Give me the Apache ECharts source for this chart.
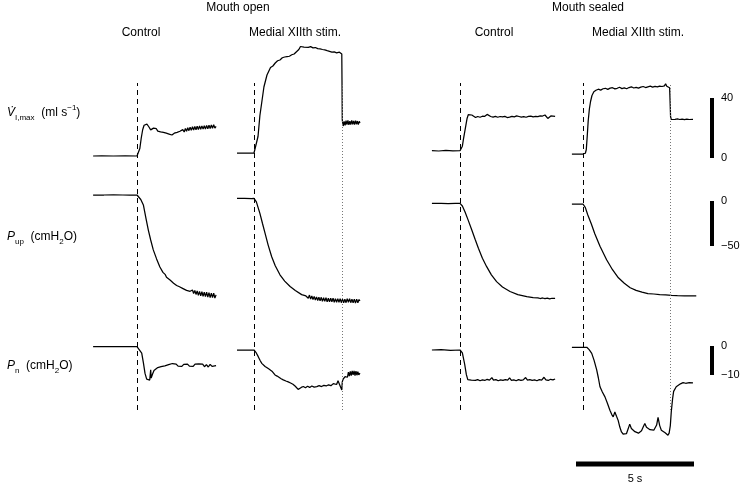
<!DOCTYPE html>
<html><head><meta charset="utf-8">
<script src="https://cdn.jsdelivr.net/npm/echarts@6/dist/echarts.min.js"></script>
<style>html,body{margin:0;padding:0;background:#fff}#c{width:750px;height:486px}</style>
</head><body><div id="c"></div>
<script>
// ---------------- DATA ([time s from stim onset, value]) ----------------
const groupTitles = ['Mouth open', 'Mouth sealed'];
const panelTitles = ['Control', 'Medial XIIth stim.', 'Control', 'Medial XIIth stim.'];
const stimEnd = [null, 3.73, null, 3.69];           // s
const scaleBarValues = [40, -50, -10];              // V ml s-1, Pup cmH2O, Pn cmH2O
const timeBarSeconds = 5;

// Row 1: inspiratory flow (ml s-1)
const openCtrlV = [[-1.86,0],[-1.5,0.1],[-1.0,0],[-0.5,0.1],[0,0],[0.06,0.6],[0.12,5],[0.18,12],[0.24,17.5],[0.3,20.5],[0.36,21.8],[0.42,21.2],[0.5,19.5],[0.58,17.4],[0.64,16.8],[0.7,18.6],[0.76,19.5],[0.82,18.2],[0.88,16.6],[0.94,17.4],[1.0,16.1],[1.06,17.3],[1.12,15.8],[1.18,16.8],[1.24,15.2],[1.3,16.1],[1.36,14.6],[1.42,15.4],[1.48,14],[1.53,14],[1.58,15.2],[1.64,14.3],[1.7,15.8],[1.76,14.9],[1.82,16.5],[1.88,15.5],[1.94,17.6],[2.0,16],[2.05,18.4],[2.1,16.5],[2.15,18.8],[2.2,16.9],[2.25,19.2],[2.3,17.1],[2.35,19.5],[2.4,17.3],[2.45,19.7],[2.5,17.5],[2.55,19.8],[2.6,17.6],[2.65,20],[2.7,17.8],[2.75,20.1],[2.8,17.9],[2.85,20.2],[2.9,18],[2.95,20.4],[3.0,18.2],[3.05,20.5],[3.1,18.3],[3.15,20.7],[3.2,18.5],[3.25,20.8],[3.3,18.6],[3.35,19.8]];
const openStimV = [[-0.72,0],[-0.4,0],[0,0],[0.08,1],[0.17,11],[0.25,25],[0.34,35],[0.42,44],[0.55,52],[0.7,57],[0.8,58],[0.9,60],[1.0,61.5],[1.1,62],[1.2,63.5],[1.3,64],[1.4,64.3],[1.5,64.5],[1.6,65.5],[1.7,66],[1.8,67.5],[1.9,69],[1.97,71],[2.05,71.8],[2.12,70.6],[2.2,71.2],[2.3,70.4],[2.4,70.9],[2.5,70.1],[2.6,70.3],[2.7,69.6],[2.8,69.4],[2.9,69],[3.0,68.7],[3.1,68.2],[3.2,67.8],[3.3,67.3],[3.4,67.4],[3.5,66.8],[3.58,65.5],[3.62,67.2],[3.68,66.4],[3.72,66],[3.73,45],[3.74,22],[3.78,18],[3.82,21],[3.86,18.5],[3.9,21.5],[3.94,18.9],[3.98,21.7],[4.02,18.8],[4.06,21.3],[4.1,19],[4.14,21.8],[4.18,19.1],[4.22,21.4],[4.26,18.9],[4.3,21.6],[4.34,19.2],[4.38,21.3],[4.42,19],[4.46,21.1],[4.49,20]];
const sealCtrlV = [[-1.19,0],[-0.9,-0.2],[-0.6,0.2],[-0.3,-0.1],[0,0],[0.05,0.5],[0.1,3],[0.15,8],[0.2,12.5],[0.25,17],[0.3,21.5],[0.35,24],[0.42,24.9],[0.5,23.8],[0.58,22.6],[0.66,22.1],[0.75,22.8],[0.85,22.3],[0.95,23],[1.05,22.9],[1.15,24.2],[1.22,23.9],[1.3,22.8],[1.4,22.4],[1.5,22.9],[1.6,22.3],[1.7,22.8],[1.8,22.5],[1.9,22.9],[2.0,22.1],[2.1,22.4],[2.2,22.9],[2.3,22.6],[2.4,23.2],[2.5,22.8],[2.6,22.4],[2.7,22.7],[2.8,22.3],[2.9,22.9],[3.0,23.1],[3.1,22.6],[3.2,22.9],[3.3,22.7],[3.4,23.2],[3.5,23.1],[3.6,23.8],[3.66,23.2],[3.72,21.5],[3.78,22.2],[3.85,23.2],[3.92,22.6],[4.03,22.9]];
const sealStimV = [[-0.47,0],[-0.2,0],[0,0],[0.1,0.5],[0.14,3],[0.18,12],[0.22,22],[0.27,30],[0.32,35],[0.38,39],[0.46,41.5],[0.55,42.5],[0.65,43.2],[0.75,42.6],[0.85,43.5],[0.95,43.8],[1.05,43.1],[1.15,43.9],[1.25,44.2],[1.35,43.4],[1.45,43.8],[1.55,44.5],[1.65,43.6],[1.75,44.1],[1.85,43.5],[1.95,44.3],[2.05,44.8],[2.15,44],[2.25,44.4],[2.35,43.9],[2.45,44.6],[2.55,45],[2.65,44.3],[2.75,44.8],[2.85,45.2],[2.95,44.6],[3.05,45.1],[3.15,44.7],[3.25,45.3],[3.35,45],[3.45,45.4],[3.5,46.8],[3.55,45.2],[3.62,44.9],[3.67,44.2],[3.69,35],[3.71,25],[3.74,23],[3.8,23.5],[3.9,23.1],[4.0,23.4],[4.1,23],[4.2,23.3],[4.3,22.9],[4.4,23.2],[4.5,23],[4.66,23.1]];

// Row 2: upper airway pressure (cmH2O)
const openCtrlPup = [[-1.86,0],[-1.4,0],[-1.0,0.2],[-0.6,0],[-0.3,-0.2],[0,0],[0.08,-2],[0.16,-5],[0.27,-11],[0.38,-26],[0.48,-39],[0.58,-50],[0.69,-61],[0.83,-71],[0.97,-80],[1.1,-86],[1.2,-88.5],[1.25,-91.5],[1.32,-91.5],[1.4,-94.5],[1.47,-94.5],[1.55,-98],[1.62,-97.5],[1.68,-100.5],[1.75,-99.5],[1.8,-102],[1.88,-101],[1.95,-104],[2.02,-102.5],[2.1,-106],[2.17,-104],[2.25,-107],[2.3,-108.5],[2.35,-105.5],[2.4,-109.5],[2.45,-106],[2.5,-110.5],[2.55,-106.5],[2.6,-111.5],[2.65,-107],[2.7,-112],[2.75,-107.5],[2.8,-112.5],[2.85,-108],[2.9,-113],[2.95,-108],[3.0,-113.5],[3.05,-108.5],[3.1,-114],[3.15,-109],[3.2,-114],[3.25,-109],[3.3,-114.5],[3.35,-111]];
const openStimPup = [[-0.72,0],[-0.4,0],[-0.1,-0.3],[0,0],[0.1,-4],[0.25,-16.7],[0.36,-28],[0.47,-39],[0.6,-52],[0.75,-65],[0.9,-75],[1.1,-85],[1.3,-92],[1.53,-98],[1.75,-102.5],[2.02,-107],[2.2,-108.5],[2.3,-111],[2.35,-107.5],[2.4,-112],[2.45,-108.5],[2.5,-112.5],[2.55,-109],[2.6,-113],[2.65,-109.5],[2.7,-113.5],[2.75,-110],[2.8,-114],[2.85,-110],[2.9,-114.5],[2.95,-110.5],[3.0,-114.5],[3.05,-110.5],[3.1,-115],[3.15,-111],[3.2,-115],[3.25,-111],[3.3,-115],[3.35,-111],[3.4,-115.5],[3.45,-111.5],[3.5,-115.5],[3.55,-111.5],[3.6,-115.5],[3.65,-111.5],[3.7,-116],[3.75,-112],[3.8,-116],[3.85,-112],[3.9,-116],[3.95,-111.5],[4.0,-115.5],[4.05,-111.5],[4.1,-116],[4.15,-112],[4.2,-116],[4.25,-112],[4.3,-116.5],[4.35,-112],[4.4,-116],[4.45,-112.5],[4.49,-114]];
const sealCtrlPup = [[-1.19,0],[-0.8,0],[-0.5,-0.3],[-0.2,0],[0,0],[0.1,-3],[0.21,-9.3],[0.35,-19],[0.5,-29.7],[0.64,-40],[0.78,-50],[0.95,-61],[1.13,-70.4],[1.33,-79.5],[1.55,-87],[1.8,-93],[2.12,-98],[2.45,-101.5],[2.83,-103.8],[3.1,-104.8],[3.3,-105],[3.4,-105.8],[3.5,-105.2],[3.6,-106],[3.7,-105.4],[3.8,-106.1],[3.9,-105.5],[3.94,-105.8],[4.03,-105.6]];
const sealStimPup = [[-0.47,0],[-0.2,0],[0,0],[0.1,-4],[0.2,-12],[0.35,-22],[0.5,-33],[0.72,-47],[1.0,-62],[1.25,-73],[1.5,-82],[1.75,-88],[2.0,-93],[2.25,-96],[2.5,-98],[2.75,-99.5],[3.0,-100],[3.25,-100.8],[3.5,-101],[3.75,-101.5],[4.0,-101.8],[4.3,-102],[4.6,-102],[4.8,-102]];

// Row 3: nasal pressure (cmH2O)
const openCtrlPn = [[-1.86,0],[-1.2,0],[-0.6,0],[0,0],[0.08,-0.5],[0.2,-2.2],[0.27,-5.5],[0.34,-9.2],[0.41,-11.2],[0.48,-11.8],[0.54,-11.5],[0.58,-8],[0.6,-10.8],[0.66,-9.4],[0.72,-8.2],[0.8,-7.8],[0.88,-7.2],[0.95,-7.6],[1.02,-6.9],[1.1,-7.3],[1.18,-6.6],[1.26,-6.9],[1.34,-6.2],[1.42,-6.5],[1.5,-5.8],[1.58,-6.3],[1.66,-6.0],[1.74,-6.7],[1.82,-6.2],[1.9,-6.8],[1.98,-6.1],[2.06,-6.6],[2.14,-6.0],[2.22,-6.7],[2.3,-6.1],[2.38,-6.8],[2.46,-6.0],[2.54,-6.6],[2.62,-5.9],[2.7,-6.5],[2.78,-6.0],[2.86,-6.9],[2.94,-6.2],[3.02,-7.0],[3.1,-6.1],[3.18,-6.8],[3.26,-6.2],[3.35,-6.5]];
const openStimPn = [[-0.72,0],[-0.3,0],[0,0],[0.08,-0.8],[0.18,-2.3],[0.26,-3.6],[0.33,-4.6],[0.4,-4.3],[0.47,-5.7],[0.55,-5.9],[0.62,-6.5],[0.68,-6.9],[0.76,-7.3],[0.82,-7.9],[0.89,-8.6],[0.98,-9.0],[1.06,-9.6],[1.15,-9.9],[1.24,-10.3],[1.35,-10.7],[1.45,-11.0],[1.55,-11.4],[1.65,-11.8],[1.75,-12.5],[1.82,-13.0],[1.87,-13.6],[1.93,-13.0],[2.0,-12.9],[2.09,-12.6],[2.18,-13.0],[2.27,-12.5],[2.36,-12.9],[2.45,-12.4],[2.55,-12.8],[2.66,-12.6],[2.76,-12.3],[2.86,-12.6],[2.96,-12.2],[3.06,-12.4],[3.16,-12.0],[3.26,-12.3],[3.36,-11.6],[3.44,-11.0],[3.5,-11.9],[3.56,-10.6],[3.62,-11.8],[3.67,-12.4],[3.72,-13.8],[3.74,-11.0],[3.78,-10.0],[3.82,-9.4],[3.86,-9.2],[3.92,-8.6],[3.96,-9.4],[4.0,-7.6],[4.04,-9.0],[4.08,-7.4],[4.12,-8.8],[4.16,-7.2],[4.2,-8.6],[4.24,-7.2],[4.28,-8.8],[4.32,-7.3],[4.36,-8.7],[4.4,-7.5],[4.44,-8.6],[4.49,-8.0]];
const sealCtrlPn = [[-1.19,0],[-0.8,0.1],[-0.4,-0.1],[0,0],[0.1,-1],[0.2,-5],[0.27,-8.5],[0.33,-10.2],[0.4,-10.8],[0.48,-10.4],[0.55,-10.1],[0.65,-10.5],[0.75,-10.2],[0.85,-10.6],[0.95,-10.3],[1.05,-10.5],[1.15,-10.1],[1.25,-10.4],[1.35,-9.5],[1.42,-10.4],[1.52,-10.2],[1.62,-10.6],[1.72,-10.3],[1.82,-10.5],[1.92,-10.2],[2.02,-10.4],[2.1,-9.6],[2.18,-10.5],[2.28,-10.3],[2.38,-10.6],[2.48,-10.2],[2.58,-10.5],[2.68,-10.3],[2.78,-9.5],[2.86,-10.4],[2.96,-10.2],[3.06,-10.5],[3.16,-10.3],[3.26,-10.6],[3.36,-10.2],[3.46,-10.4],[3.56,-9.4],[3.64,-10.3],[3.74,-10.5],[3.84,-10.1],[3.94,-10.3],[4.03,-10.0]];
const sealStimPn = [[-0.47,0],[-0.2,0],[0,0],[0.16,0],[0.26,-0.8],[0.37,-2.1],[0.47,-4.5],[0.58,-7.8],[0.65,-10.5],[0.72,-13.6],[0.82,-15.4],[0.93,-17.1],[1.03,-19.2],[1.14,-21.7],[1.22,-23.2],[1.28,-24],[1.35,-22.3],[1.42,-23.8],[1.49,-25.2],[1.56,-27.5],[1.63,-29.2],[1.7,-29.9],[1.77,-29.5],[1.84,-29.8],[1.91,-28.2],[1.98,-26.5],[2.05,-28.0],[2.12,-28.6],[2.2,-29.1],[2.28,-28.8],[2.35,-29.6],[2.41,-29.8],[2.48,-28.8],[2.55,-27.5],[2.62,-26.3],[2.69,-27.6],[2.76,-28],[2.84,-28.4],[2.92,-28.1],[3.0,-28.6],[3.06,-28.3],[3.12,-26.8],[3.18,-24.2],[3.25,-27.0],[3.32,-28.6],[3.4,-29.0],[3.48,-29.5],[3.56,-30.1],[3.6,-30.3],[3.65,-29.6],[3.7,-27],[3.74,-22.3],[3.8,-17.5],[3.84,-15.2],[3.88,-14.8],[3.95,-13.6],[4.03,-13.1],[4.13,-12.6],[4.24,-12.2],[4.35,-12.4],[4.5,-12.2],[4.66,-12.3]];

const panels = [
  [openCtrlV, openCtrlPup, openCtrlPn],
  [openStimV, openStimPup, openStimPn],
  [sealCtrlV, sealCtrlPup, sealCtrlPn],
  [sealStimV, sealStimPup, sealStimPn]
];

// ---------------- LAYOUT (pixels) ----------------
const FONT = '"Liberation Sans", Arial, Helvetica, sans-serif';
const pxPerSec = 23.6;
const pxPerUnit = [1.5, 0.9, 2.9];
const onsetX = [137, 254, 460, 583];
const zeroY = [[156,195,346.7],[153,198.3,350],[150.7,203.3,350],[154,204,347.3]];
const scaleZeroY = [158, 201, 346];
const gridTop = 83, gridBottom = 410;
const scaleX = 710;
const timeBarX = 576, timeBarY = 462;

const grid = [], xAxis = [], yAxis = [], series = [];
const hidden = {show: false};

panels.forEach((rows, c) => {
  const tmin = Math.min(...rows.map(r => r[0][0]));
  const tmax = Math.max(...rows.map(r => r[r.length - 1][0]));
  grid.push({left: onsetX[c] + tmin * pxPerSec, width: (tmax - tmin) * pxPerSec, top: gridTop, height: gridBottom - gridTop});
  xAxis.push({gridIndex: c, type: 'value', min: tmin, max: tmax, show: false});
  rows.forEach((data, r) => {
    const yi = yAxis.length;
    yAxis.push({gridIndex: c, type: 'value', show: false,
      max: (zeroY[c][r] - gridTop) / pxPerUnit[r], min: (zeroY[c][r] - gridBottom) / pxPerUnit[r]});
    const s = {type: 'line', xAxisIndex: c, yAxisIndex: yi, data, symbol: 'none', clip: false,
      silent: true, animation: false, lineStyle: {color: '#000', width: 1.25}};
    if (r === 0) {
      const ml = [{xAxis: 0, lineStyle: {type: [5, 4], color: '#000', width: 1}}];
      if (stimEnd[c] !== null) ml.push({xAxis: stimEnd[c], lineStyle: {type: [1, 2], color: '#777', width: 1}});
      s.markLine = {silent: true, symbol: ['none', 'none'], label: {show: false}, animation: false, data: ml};
    }
    series.push(s);
  });
});

// vertical scale bars
const sg = grid.length;
grid.push({left: scaleX, width: 4, top: gridTop, height: gridBottom - gridTop});
xAxis.push({gridIndex: sg, type: 'value', min: -1, max: 1, show: false});
scaleBarValues.forEach((v, r) => {
  const yi = yAxis.length;
  yAxis.push({gridIndex: sg, type: 'value', position: 'right', offset: 0,
    max: (scaleZeroY[r] - gridTop) / pxPerUnit[r], min: (scaleZeroY[r] - gridBottom) / pxPerUnit[r],
    axisLine: hidden, axisTick: hidden, splitLine: hidden,
    axisLabel: {customValues: [0, v], margin: 7, color: '#000', fontSize: 11, fontFamily: FONT,
      formatter: val => String(val).replace('-', '\u2212')}});
  series.push({type: 'line', xAxisIndex: sg, yAxisIndex: yi, data: [[0, 0], [0, v]], symbol: 'none',
    clip: false, silent: true, animation: false, lineStyle: {color: '#000', width: 4}});
});

// time bar
const tg = grid.length;
grid.push({left: timeBarX, width: timeBarSeconds * pxPerSec, top: timeBarY, height: 4});
xAxis.push({gridIndex: tg, type: 'value', min: 0, max: timeBarSeconds, position: 'bottom',
  axisLine: hidden, axisTick: hidden, splitLine: hidden,
  axisLabel: {customValues: [timeBarSeconds / 2], margin: 7, color: '#000', fontSize: 11, fontFamily: FONT,
    formatter: () => timeBarSeconds + ' s'}});
const tyi = yAxis.length;
yAxis.push({gridIndex: tg, type: 'value', min: -1, max: 1, show: false});
series.push({type: 'line', xAxisIndex: tg, yAxisIndex: tyi, data: [[0, 0], [timeBarSeconds, 0]], symbol: 'none',
  clip: false, silent: true, animation: false, lineStyle: {color: '#000', width: 5}});

// texts
const txt = (x, y, text, extra) => ({type: 'text', x, y, silent: true,
  style: Object.assign({text, fill: '#000', font: '12px ' + FONT, align: 'center', verticalAlign: 'middle'}, extra || {})});
const rich = {
  it: {fontStyle: 'italic', fontSize: 12, fontFamily: FONT, lineHeight: 18, verticalAlign: 'middle'},
  n: {fontSize: 12, fontFamily: FONT, lineHeight: 18, verticalAlign: 'middle'},
  sub: {fontSize: 8, fontFamily: FONT, lineHeight: 10, verticalAlign: 'bottom'},
  sup: {fontSize: 8, fontFamily: FONT, lineHeight: 10, verticalAlign: 'top'}
};
const graphic = [
  txt(238, 8, groupTitles[0]), txt(588, 8, groupTitles[1]),
  txt(141, 33, panelTitles[0]), txt(295, 33, panelTitles[1]),
  txt(494, 33, panelTitles[2]), txt(638, 33, panelTitles[3]),
  txt(7, 113, '{it|V\u0307}{sub|I,max}{n|  (ml s}{sup|\u22121}{n|)}', {align: 'left', rich}),
  txt(7, 237, '{it|P}{sub|up}{n|  (cmH}{sub|2}{n|O)}', {align: 'left', rich}),
  txt(7, 366, '{it|P}{sub|n}{n|  (cmH}{sub|2}{n|O)}', {align: 'left', rich})
];

const chart = echarts.init(document.getElementById('c'), null, {renderer: 'canvas'});
chart.setOption({animation: false, backgroundColor: '#fff', grid, xAxis, yAxis, series, graphic});
</script></body></html>
